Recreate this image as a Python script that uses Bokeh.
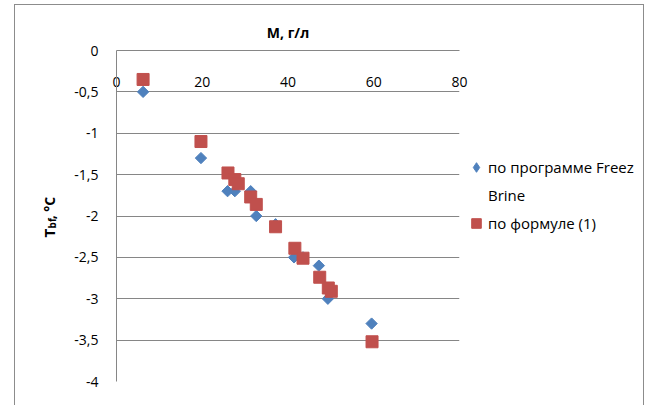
import math
from bokeh.plotting import figure
from bokeh.layouts import row
from bokeh.models import Range1d, Legend, LegendItem, Label, FixedTicker
from bokeh.embed import file_html
from bokeh.resources import INLINE

# data
m_prog = [6.2, 19.7, 25.9, 27.6, 31.3, 32.6, 37.1, 41.4, 43.5, 47.2, 49.3, 59.5]
t_prog = [-0.5, -1.3, -1.7, -1.7, -1.7, -2.0, -2.1, -2.5, -2.5, -2.6, -3.0, -3.3]
m_form = [6.2, 19.7, 26.0, 27.6, 28.4, 31.3, 32.6, 37.1, 41.6, 43.5, 47.4, 49.4, 50.1, 59.6]
t_form = [-0.35, -1.1, -1.48, -1.56, -1.61, -1.77, -1.86, -2.13, -2.39, -2.51, -2.74, -2.87, -2.91, -3.52]

x_ticks = [0, 20, 40, 60, 80]
y_ticks = [0, -0.5, -1, -1.5, -2, -2.5, -3, -3.5, -4]
y_tick_labels = ["0", "-0,5", "-1", "-1,5", "-2", "-2,5", "-3", "-3,5", "-4"]

label_prog = "по программе Freez"
label_prog2 = "Brine"
label_form = "по формуле (1)"
x_title = "M, г/л"
y_title_parts = ["T", "bf", ", °C"]

BLUE = "#4F81BD"
RED = "#C0504D"
GRID = "#868686"
FONT = "Open Sans"
H = 400


def strip(width, y0=0):
    f = figure(width=width, height=H, output_backend="svg", toolbar_location=None,
               x_range=Range1d(0, width), y_range=Range1d(y0, y0 + H),
               x_axis_type=None, y_axis_type=None,
               min_border=0, min_border_left=0, min_border_right=0,
               min_border_top=0, min_border_bottom=0)
    f.outline_line_color = None
    f.grid.visible = False
    f.background_fill_color = "white"
    f.border_fill_color = "white"
    return f


# ---- left strip holding the y-axis title ----
pl = strip(55)
for txt, xx, yy, fs in zip(y_title_parts, [33.5, 36, 33.5], [174, 185, 196],
                           ["15px", "10px", "14px"]):
    pl.add_layout(Label(x=xx, y=yy, text=txt,
                        angle=math.pi / 2, text_align="left", text_baseline="middle",
                        text_font=FONT, text_font_size=fs, text_font_style="bold",
                        text_color="#000000"))

# ---- main chart ----
p = figure(width=400, height=H, output_backend="svg", toolbar_location=None,
           x_range=Range1d(0, 80), y_range=Range1d(-4, 0),
           x_axis_location="above",
           min_border_left=46, min_border_right=11,
           min_border_top=45, min_border_bottom=24)
p.outline_line_color = None
p.background_fill_color = "white"
p.border_fill_color = "white"

p.title.text = x_title
p.title.align = "center"
p.title.text_font = FONT
p.title.text_font_size = "14px"
p.title.text_font_style = "bold"
p.title.text_color = "#000000"
p.title.standoff = 17

p.xgrid.visible = False
p.ygrid.ticker = FixedTicker(ticks=y_ticks)
p.ygrid.grid_line_color = GRID
p.ygrid.grid_line_width = 1

xa = p.xaxis[0]
xa.ticker = FixedTicker(ticks=x_ticks)
xa.axis_line_color = GRID
xa.major_tick_out = 0
xa.major_tick_in = 0
xa.minor_tick_line_color = None
xa.major_label_standoff = -36
xa.major_label_text_font = FONT
xa.major_label_text_font_size = "14px"
xa.major_label_text_color = "#000000"

ya = p.yaxis[0]
ya.ticker = FixedTicker(ticks=y_ticks)
ya.major_label_overrides = {t: s for t, s in zip(y_ticks, y_tick_labels)}
ya.axis_line_color = GRID
ya.major_tick_out = 0
ya.major_tick_in = 0
ya.minor_tick_line_color = None
ya.major_label_standoff = 18
ya.major_label_text_font = FONT
ya.major_label_text_font_size = "14px"
ya.major_label_text_color = "#000000"

p.scatter(m_prog, t_prog, marker="square", angle=math.pi / 4, size=8,
          fill_color=BLUE, line_color=BLUE)
p.scatter(m_form, t_form, marker="square", size=12,
          fill_color=RED, line_color=RED)

# ---- right strip holding the legend (its series fall far outside its range; they only key the legend) ----
pr = strip(173, y0=1000)
k1 = pr.scatter(m_prog, t_prog, marker="diamond", size=8,
                fill_color=BLUE, line_color=BLUE)
k2 = pr.scatter(m_form, t_form, marker="square", size=10,
                fill_color=RED, line_color=RED)
legend = Legend(items=[LegendItem(label=label_prog, renderers=[k1]),
                       LegendItem(label=label_prog2, renderers=[]),
                       LegendItem(label=label_form, renderers=[k2])],
                location=(-6, 146))
legend.padding = 0
legend.margin = 0
legend.spacing = 4
legend.glyph_width = 24
legend.glyph_height = 24
legend.label_height = 24
legend.label_standoff = -4
legend.label_text_font = FONT
legend.label_text_font_size = "15px"
legend.label_text_color = "#000000"
legend.border_line_color = None
legend.background_fill_alpha = 0
pr.add_layout(legend)

layout = row(pl, p, pr, spacing=0)
layout.styles = {"border": "1px solid #8c8c8c", "margin-left": "14px", "margin-top": "4px",
                 "background-color": "white"}

open("out.html", "w").write(file_html(layout, INLINE))
